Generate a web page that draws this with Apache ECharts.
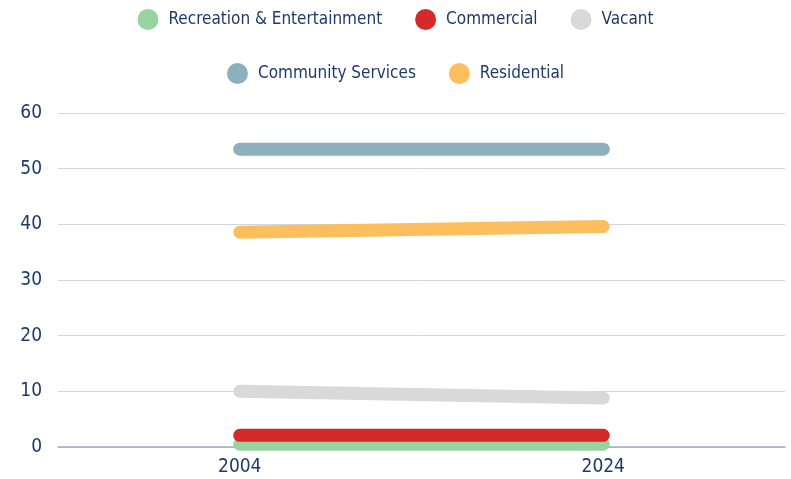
<!DOCTYPE html>
<html><head><meta charset="utf-8">
<script src="https://cdn.jsdelivr.net/npm/echarts@6/dist/echarts.min.js"></script>
<style>html,body{margin:0;padding:0;background:#fff}#c{width:791px;height:479px}</style>
</head><body><div id="c"></div>
<script>
const categories = ['2004', '2024'];
const seriesNames = ['Recreation & Entertainment', 'Commercial', 'Vacant', 'Community Services', 'Residential'];
const recreation = [0.5, 0.5];
const commercial = [2.1, 2.1];
const vacant = [10.0, 8.8];
const community = [53.5, 53.5];
const residential = [38.6, 39.6];
const yTicks = [0, 10, 20, 30, 40, 50, 60];

const colors = ['#98d4a0', '#d42a2a', '#d9d9d9', '#8db0bc', '#fdbe5e'];
const values = [recreation, commercial, vacant, community, residential];
const FONT = '"DejaVu Sans Condensed", "Liberation Sans Narrow", sans-serif';
const TXT = '#1e3a6b';

const chart = echarts.init(document.getElementById('c'));
const legendBase = {
  icon: 'circle', itemWidth: 21, itemHeight: 21, itemGap: 33,
  textStyle: { fontFamily: FONT, fontSize: 17, color: TXT, padding: [0, 0, 0, 5] }
};
chart.setOption({
  animation: false,
  legend: [
    Object.assign({}, legendBase, { top: 4, left: 'center', data: seriesNames.slice(0, 3) }),
    Object.assign({}, legendBase, { top: 58, left: 'center', data: seriesNames.slice(3) })
  ],
  grid: { left: 58, right: 6, top: 113, bottom: 32, containLabel: false },
  xAxis: {
    type: 'category', data: categories, boundaryGap: true,
    axisLine: { show: true, lineStyle: { color: '#a3abc3', width: 1.5 } },
    axisTick: { show: false },
    axisLabel: { fontFamily: FONT, fontSize: 19, color: TXT, margin: 11 }
  },
  yAxis: {
    type: 'value', min: yTicks[0], max: yTicks[yTicks.length - 1], interval: 10,
    axisLine: { show: false }, axisTick: { show: false },
    splitLine: { lineStyle: { color: '#d3d6e0', width: 1 } },
    axisLabel: { fontFamily: FONT, fontSize: 19, color: TXT, margin: 16 }
  },
  series: seriesNames.map((n, i) => ({
    name: n, type: 'line', data: values[i],
    color: colors[i], symbol: 'none', showSymbol: false,
    lineStyle: { width: 13, color: colors[i], cap: 'round', join: 'round' },
    itemStyle: { color: colors[i] }
  }))
});
</script></body></html>
